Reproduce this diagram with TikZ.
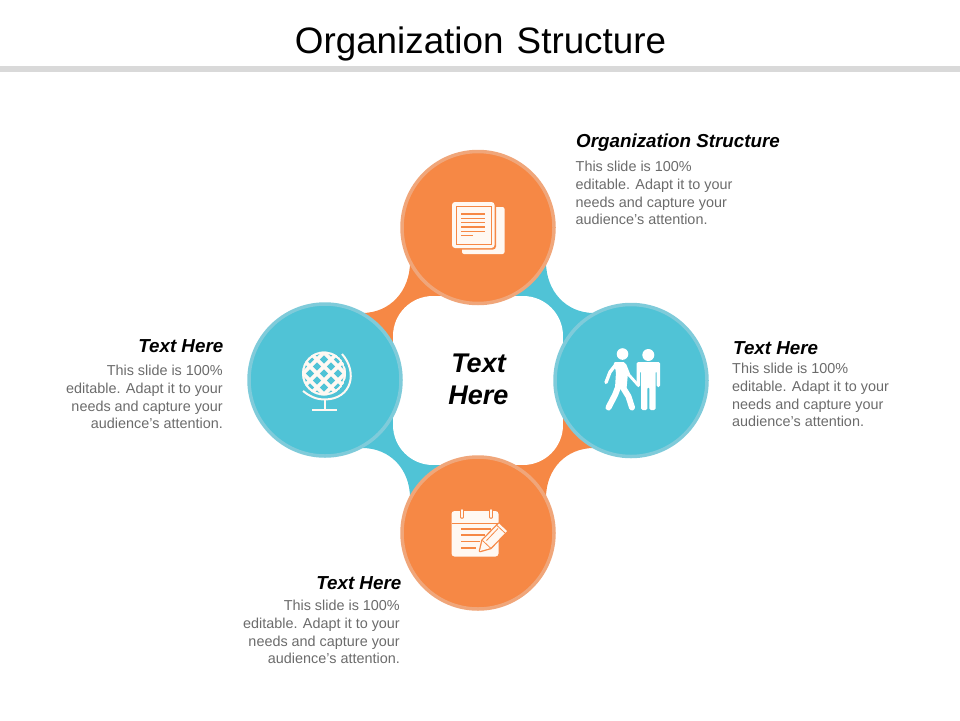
\documentclass[tikz,border=0pt]{standalone}
\usepackage{fontspec}
\setmainfont{Liberation Sans}
\definecolor{slideorange}{HTML}{F68845}
\definecolor{slideorangeedge}{HTML}{F0A67A}
\definecolor{slideteal}{HTML}{50C3D6}
\definecolor{slidetealedge}{HTML}{7FCBDA}
\definecolor{slidegray}{HTML}{6B6B6B}
\definecolor{slidecream}{HTML}{FFF8F2}
\tikzset{
  bubble/.style={circle, draw, line width=3.5pt, minimum size=152pt, inner sep=0pt},
  headtext/.style={inner sep=0pt, font=\fontsize{18.8}{22}\selectfont\bfseries\itshape},
  bodytext/.style={inner sep=0pt, text=slidegray, font=\fontsize{14.4}{17.7}\selectfont},
  walker/.style={white, line cap=round, line join=round},
}
\begin{document}
\begin{tikzpicture}[x=1pt, y=-1pt]
\useasboundingbox (0, 0) rectangle (960, 720);

% Title and the rule below it
\node[inner sep=0pt, font=\fontsize{36.8}{40}\selectfont] (title) at (480.5, 44) {Organization\hspace{3pt} Structure};
\fill[black!15] (0, 66) rectangle (960, 72);

% Four webs between the circles
\fill[slideorange] (478, 228) -- (410, 262) .. controls (410, 291) and (390, 313) .. (362, 313) -- (325, 380) -- (478, 380) -- cycle;
\fill[slideteal] (478, 228) -- (546, 262) .. controls (546, 291) and (566, 313) .. (594, 313) -- (631, 380) -- (478, 380) -- cycle;
\fill[slideorange] (478, 533) -- (546, 498) .. controls (546, 469) and (566, 448) .. (594, 448) -- (631, 380) -- (478, 380) -- cycle;
\fill[slideteal] (478, 533) -- (410, 498) .. controls (410, 469) and (390, 448) .. (362, 448) -- (325, 380) -- (478, 380) -- cycle;

% White middle
\fill[white] (433, 336) circle (40);
\fill[white] (523, 336) circle (40);
\fill[white] (433, 425) circle (40);
\fill[white] (523, 425) circle (40);
\fill[white] (433, 296) rectangle (523, 465);
\fill[white] (393, 336) rectangle (563, 425);

% Circles
\node[bubble, fill=slideorange, draw=slideorangeedge] (topcircle) at (478, 227.5) {};
\node[bubble, fill=slideteal, draw=slidetealedge] (leftcircle) at (325, 380) {};
\node[bubble, fill=slideteal, draw=slidetealedge] (rightcircle) at (631, 380.5) {};
\node[bubble, fill=slideorange, draw=slideorangeedge] (bottomcircle) at (478, 533) {};

% Middle text
\node[inner sep=0pt, align=center, font=\fontsize{27}{32}\selectfont\bfseries\itshape] (middle) at (478.5, 379) {Text\\Here};

% Labels
\node[headtext, anchor=west] (tophead) at (576, 143) {Organization Structure};
\node[bodytext, anchor=north west, align=left] (topbody) at (575.5, 161) {This slide is 100\%\\editable. Adapt it to your\\needs and capture your\\audience's attention.};
\node[headtext, anchor=west] (righthead) at (733, 348) {Text Here};
\node[bodytext, anchor=north west, align=left] (rightbody) at (732, 363) {This slide is 100\%\\editable. Adapt it to your\\needs and capture your\\audience's attention.};
\node[headtext, anchor=east] (lefthead) at (223.5, 346) {Text Here};
\node[bodytext, anchor=north east, align=right] (leftbody) at (223, 365) {This slide is 100\%\\editable. Adapt it to your\\needs and capture your\\audience's attention.};
\node[headtext, anchor=east] (bottomhead) at (401.5, 583) {Text Here};
\node[bodytext, anchor=north east, align=right] (bottombody) at (400, 600) {This slide is 100\%\\editable. Adapt it to your\\needs and capture your\\audience's attention.};

% Document icon
\fill[slidecream, rounded corners=2pt] (462, 207) rectangle (504.5, 254);
\fill[slideorange, rounded corners=3pt] (451, 201) rectangle (496, 249.5);
\fill[slidecream, rounded corners=3pt] (452, 202) rectangle (494.5, 248);
\draw[slideorange, line width=1pt] (456, 206) rectangle (491, 244);
\foreach \y in {214, 218.3, 222.6, 226.9, 231.2}
  \draw[slideorange, line width=1.3pt] (461, \y) -- (485, \y);
\draw[slideorange, line width=1.3pt] (461, 235.5) -- (473, 235.5);

% Globe icon
\begin{scope}
\clip (324, 373.5) circle (22);
\fill[slidecream] (324, 373.5) circle (22);
\foreach \i in {-3,...,3}
  \foreach \j in {-3,...,3}
    \fill[slideteal] ({324+(\i-\j)*7}, {373.5+(\i+\j)*7-4.2}) -- ++(4.2, 4.2) -- ++(-4.2, 4.2) -- ++(-4.2, -4.2) -- cycle;
\draw[slidecream, line width=2pt] (324, 373.5) circle (21);
\end{scope}
\draw[slidecream, line width=2pt] (342, 354) .. controls (358, 372) and (352, 399) .. (325, 399.5) .. controls (316, 399.5) and (309, 396) .. (303, 391);
\draw[slidecream, line width=1.5pt] (325, 399.5) -- (325, 410);
\draw[slidecream, line width=1.5pt] (312, 410) -- (337, 410);

% People icon
\fill[white] (622.5, 354) circle (5.8);
\fill[white] (648.3, 355) circle (6);
\fill[white, rounded corners=1.5pt] (636.5, 362) -- (660, 362) -- (660, 387) -- (656.5, 387) -- (656.5, 371) -- (655.5, 371) -- (655.5, 410) -- (649.3, 410) -- (649.3, 387) -- (647.3, 387) -- (647.3, 410) -- (641, 410) -- (641, 371) -- (640, 371) -- (640, 387) -- (636.5, 387) -- cycle;
\fill[white, rounded corners=1.5pt] (613.5, 362) -- (625, 362) -- (628, 373) -- (626.5, 389) -- (615, 388) -- (616, 372) -- cycle;
\draw[walker, line width=3.4pt] (615.5, 365) -- (610, 372) -- (606, 382.5);
\draw[walker, line width=2.8pt] (625, 365) -- (629, 375) -- (638, 385);
\draw[walker, line width=6pt] (618.5, 386) -- (615, 395) -- (608.5, 407.5);
\draw[walker, line width=6pt] (622, 386) -- (628.5, 396.5) -- (632, 407.5);

% Calendar icon
\fill[slidecream, rounded corners=3pt] (451.5, 511) rectangle (498.5, 556.5);
\draw[slideorange, line width=3.6pt, line cap=round] (462, 510) -- (462, 517);
\draw[slideorange, line width=3.6pt, line cap=round] (491, 510) -- (491, 517);
\draw[slidecream, line width=1.8pt, line cap=round] (462, 510) -- (462, 517);
\draw[slidecream, line width=1.8pt, line cap=round] (491, 510) -- (491, 517);
\draw[slideorange, line width=0.9pt] (451.5, 523) -- (498.5, 523);
\draw[slideorange, line width=1.3pt] (461, 529) -- (491, 529);
\draw[slideorange, line width=1.3pt] (461, 535) -- (485, 535);
\draw[slideorange, line width=1.3pt] (461, 541.5) -- (480, 541.5);
\draw[slideorange, line width=1.3pt] (461, 548) -- (476, 548);
\draw[slideorange, line width=2.6pt, line join=round] (480, 551) -- (482.5, 540.5) -- (499, 523.5) -- (507, 531) -- (490.5, 548) -- cycle;
\fill[slidecream] (480, 551) -- (482.5, 540.5) -- (499, 523.5) -- (507, 531) -- (490.5, 548) -- cycle;
\draw[slideorange, line width=0.8pt] (482.5, 540.5) -- (490.5, 548);
\draw[slideorange, line width=0.8pt] (486.5, 540.5) -- (498, 528.5);
\draw[slideorange, line width=0.8pt] (497, 525.5) -- (505, 533);
\end{tikzpicture}
\end{document}
